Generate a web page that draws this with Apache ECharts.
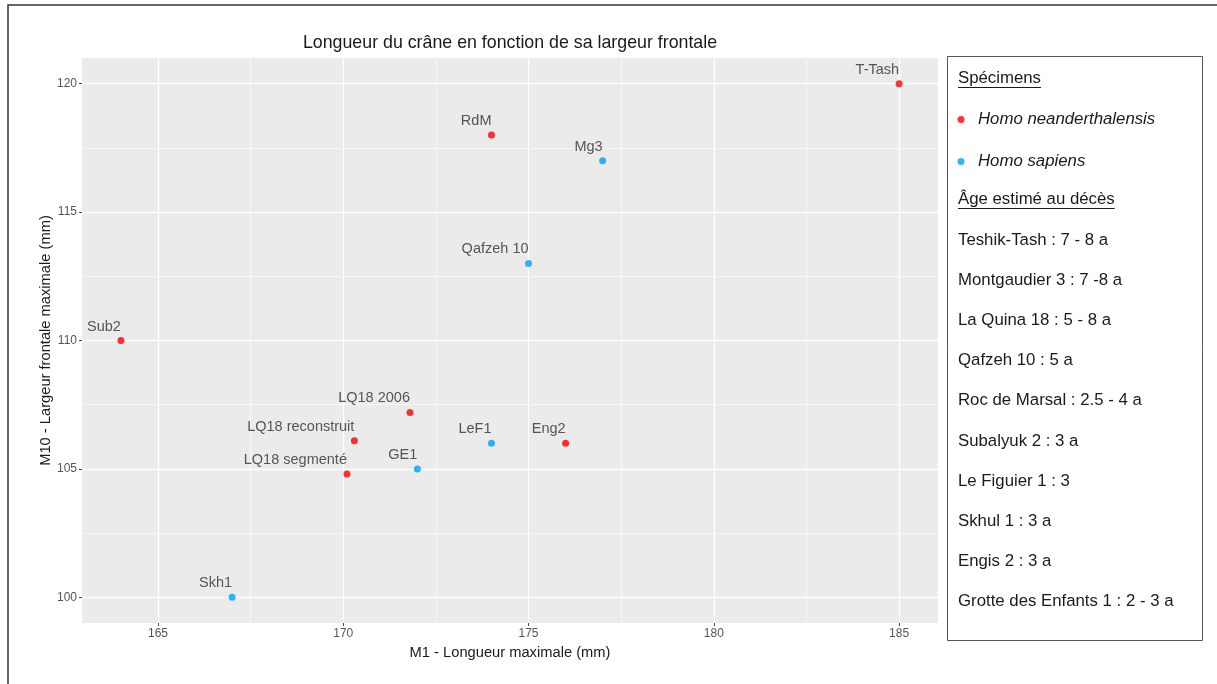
<!DOCTYPE html>
<html>
<head>
<meta charset="utf-8">
<script src="https://cdn.jsdelivr.net/npm/echarts@6/dist/echarts.min.js"></script>
<style>
html,body{margin:0;padding:0;background:#fff;}
#chart{width:1217px;height:684px;}
</style>
</head>
<body>
<div id="chart"></div>
<script>
// ---- data ----
const neandNames = ["T-Tash", "RdM", "Sub2", "LQ18 2006", "LQ18 reconstruit", "LQ18 segmenté", "Eng2"];
const neandX = [185, 174, 164, 171.8, 170.3, 170.1, 176];
const neandY = [120, 118, 110, 107.2, 106.1, 104.8, 106];

const sapNames = ["Mg3", "Qafzeh 10", "GE1", "LeF1", "Skh1"];
const sapX = [177, 175, 172, 174, 167];
const sapY = [117, 113, 105, 106, 100];

const xTicks = [165, 170, 175, 180, 185];
const xMinor = [167.5, 172.5, 177.5, 182.5];
const yTicks = [100, 105, 110, 115, 120];
const yMinor = [102.5, 107.5, 112.5, 117.5];

const ageLines = [
  "Teshik-Tash : 7 - 8 a",
  "Montgaudier 3 : 7 -8 a",
  "La Quina 18 : 5 - 8 a",
  "Qafzeh 10 : 5 a",
  "Roc de Marsal : 2.5 - 4 a",
  "Subalyuk 2 : 3 a",
  "Le Figuier 1 : 3",
  "Skhul 1 : 3 a",
  "Engis 2 : 3 a",
  "Grotte des Enfants 1 : 2 - 3 a"
];
const headSpecimens = "Spécimens";
const headAge = "Âge estimé au décès";

// ---- build ----
const FONT = '"Liberation Sans", Arial, sans-serif';
const RED = '#ff0000';
const BLUE = '#00a2f2';
const LEG_FS = 16.8;

function pts(xs, ys, names) {
  return xs.map((x, i) => ({ name: names[i], value: [x, ys[i]] }));
}

const cvs = document.createElement('canvas').getContext('2d');
function textW(t, size) {
  cvs.font = size + 'px ' + FONT;
  return cvs.measureText(t).width;
}

const legendLeft = 958;
const graphics = [];
// outer frame
graphics.push({ type: 'rect', shape: { x: 8, y: 5, width: 1400, height: 900 },
  style: { fill: 'none', stroke: '#333', lineWidth: 1.5 }, silent: true });
// legend box
graphics.push({ type: 'rect', shape: { x: 947.5, y: 56.5, width: 255, height: 584 },
  style: { fill: '#fff', stroke: '#555', lineWidth: 1 }, z: 0 });
function addText(t, y, underline) {
  graphics.push({ type: 'text', x: legendLeft, y: y, z: 10,
    style: { text: t, font: LEG_FS + 'px ' + FONT, fill: '#1a1a1a', verticalAlign: 'middle', align: 'left' } });
  if (underline) {
    const w = textW(t, LEG_FS);
    graphics.push({ type: 'line', z: 10, shape: { x1: legendLeft, y1: y + 9.5, x2: legendLeft + w, y2: y + 9.5 },
      style: { stroke: '#1a1a1a', lineWidth: 1 } });
  }
}
addText(headSpecimens, 78, true);
addText(headAge, 199, true);
ageLines.forEach((t, i) => addText(t, 240 + i * 40.2, false));

const option = {
  animation: false,
  backgroundColor: '#fff',
  title: {
    text: 'Longueur du crâne en fonction de sa largeur frontale',
    left: 510, top: 34, textAlign: 'center', padding: 0,
    textStyle: { fontSize: 17.8, fontWeight: 'normal', color: '#1a1a1a', fontFamily: FONT }
  },
  grid: {
    left: 82, top: 58, width: 856, height: 565,
    show: true, backgroundColor: '#ebebeb', borderWidth: 0
  },
  legend: {
    orient: 'vertical', left: 957.5, top: 111, padding: 0,
    itemWidth: 24, itemHeight: 7, itemGap: 25,
    icon: 'circle',
    textStyle: { fontSize: LEG_FS, fontStyle: 'italic', color: '#1a1a1a', fontFamily: FONT },
    data: ['Homo neanderthalensis', 'Homo sapiens']
  },
  xAxis: [{
    type: 'value', min: 162.95, max: 186.05,
    name: 'M1 - Longueur maximale (mm)', nameLocation: 'middle', nameGap: 22,
    nameTextStyle: { fontSize: 14.7, color: '#1a1a1a', fontFamily: FONT },
    axisLine: { show: false },
    axisTick: { show: true, customValues: xTicks, length: 3, lineStyle: { color: '#444' } },
    axisLabel: { customValues: xTicks, fontSize: 12, color: '#555', margin: 5, fontFamily: FONT },
    splitLine: { show: true, lineStyle: { color: '#fff', width: 1.3 } }
  }, {
    type: 'value', min: 162.95, max: 186.05, position: 'top',
    axisLine: { show: false }, axisLabel: { show: false },
    axisTick: { show: false, customValues: xMinor },
    splitLine: { show: true, lineStyle: { color: '#fff', width: 0.6 } }
  }],
  yAxis: [{
    type: 'value', min: 99, max: 121,
    name: 'M10 - Largeur frontale maximale (mm)', nameLocation: 'middle', nameGap: 29,
    nameMoveOverlap: false,
    nameTextStyle: { fontSize: 14.7, color: '#1a1a1a', fontFamily: FONT },
    axisLine: { show: false },
    axisTick: { show: true, customValues: yTicks, length: 3, lineStyle: { color: '#444' } },
    axisLabel: { customValues: yTicks, fontSize: 12, color: '#555', margin: 5, fontFamily: FONT },
    splitLine: { show: true, lineStyle: { color: '#fff', width: 1.3 } }
  }, {
    type: 'value', min: 99, max: 121, position: 'right',
    axisLine: { show: false }, axisLabel: { show: false },
    axisTick: { show: false, customValues: yMinor },
    splitLine: { show: true, lineStyle: { color: '#fff', width: 0.6 } }
  }],
  series: [{
    name: 'Homo neanderthalensis', type: 'scatter', symbolSize: 7,
    itemStyle: { color: RED },
    data: pts(neandX, neandY, neandNames),
    label: { show: true, formatter: '{b}', position: 'top', align: 'right', distance: 3,
      fontSize: 14.5, color: '#2e2e2e', fontFamily: FONT }
  }, {
    name: 'Homo sapiens', type: 'scatter', symbolSize: 7,
    itemStyle: { color: BLUE },
    data: pts(sapX, sapY, sapNames),
    label: { show: true, formatter: '{b}', position: 'top', align: 'right', distance: 3,
      fontSize: 14.5, color: '#2e2e2e', fontFamily: FONT }
  }],
  graphic: graphics
};

const chart = echarts.init(document.getElementById('chart'), null, { renderer: 'canvas' });
chart.setOption(option);
</script>
</body>
</html>
